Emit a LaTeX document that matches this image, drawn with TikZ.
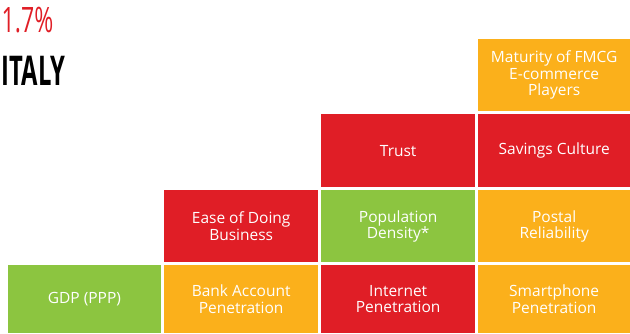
\documentclass[tikz,border=0pt]{standalone}
\usepackage{fontspec}
\setmainfont{Open Sans}
\usetikzlibrary{positioning}
\definecolor{cred}{HTML}{E01E26}
\definecolor{corange}{HTML}{FBB01B}
\definecolor{cgreen}{HTML}{8CC540}
\tikzset{
  cell/.style={anchor=north west, inner sep=0pt, text=white, align=center,
    font=\fontsize{15.5}{16.3}\selectfont, minimum height=#1},
  cell/.default=72pt,
  c1/.style={minimum width=153.5pt},
  c23/.style={minimum width=154pt},
  c4/.style={minimum width=152pt},
}
\begin{document}
\begin{tikzpicture}[x=1pt,y=-1pt]
\useasboundingbox (0,0) rectangle (630,333);
% title
\node[anchor=base west, inner sep=0pt, text=cred] (pct) at (1.5,32)
  {\scalebox{0.66}[1]{\fontsize{35}{35}\selectfont 1.7\%}};
\node[anchor=base west, inner sep=0pt, text=black] (country) at (1.5,85)
  {\scalebox{0.58}[1]{\fontsize{41}{41}\selectfont\bfseries ITALY}};
% row 1
\node[cell, c4, fill=corange] (mat) at (478,39) {Maturity of FMCG\\E-commerce\\Players};
% row 2
\node[cell=73pt, c23, fill=cred] (trust) at (321,114) {Trust};
\node[cell=73pt, c4, fill=cred] (sav) at (478,114) {Savings Culture};
% row 3
\node[cell, c23, fill=cred] (ease) at (164,190) {Ease of Doing\\Business};
\node[cell, c23, fill=cgreen] (pop) at (321,190) {Population\\Density*};
\node[cell, c4, fill=corange] (post) at (478,190) {Postal\\Reliability};
% row 4
\node[cell=68pt, c1, fill=cgreen] (gdp) at (7.5,265) {GDP (PPP)};
\node[cell=68pt, c23, fill=corange] (bank) at (164,265) {Bank Account\\Penetration};
\node[cell=68pt, c23, fill=cred] (inet) at (321,265) {Internet\\Penetration};
\node[cell=68pt, c4, fill=corange] (smart) at (478,265) {Smartphone\\Penetration};
\end{tikzpicture}
\end{document}
